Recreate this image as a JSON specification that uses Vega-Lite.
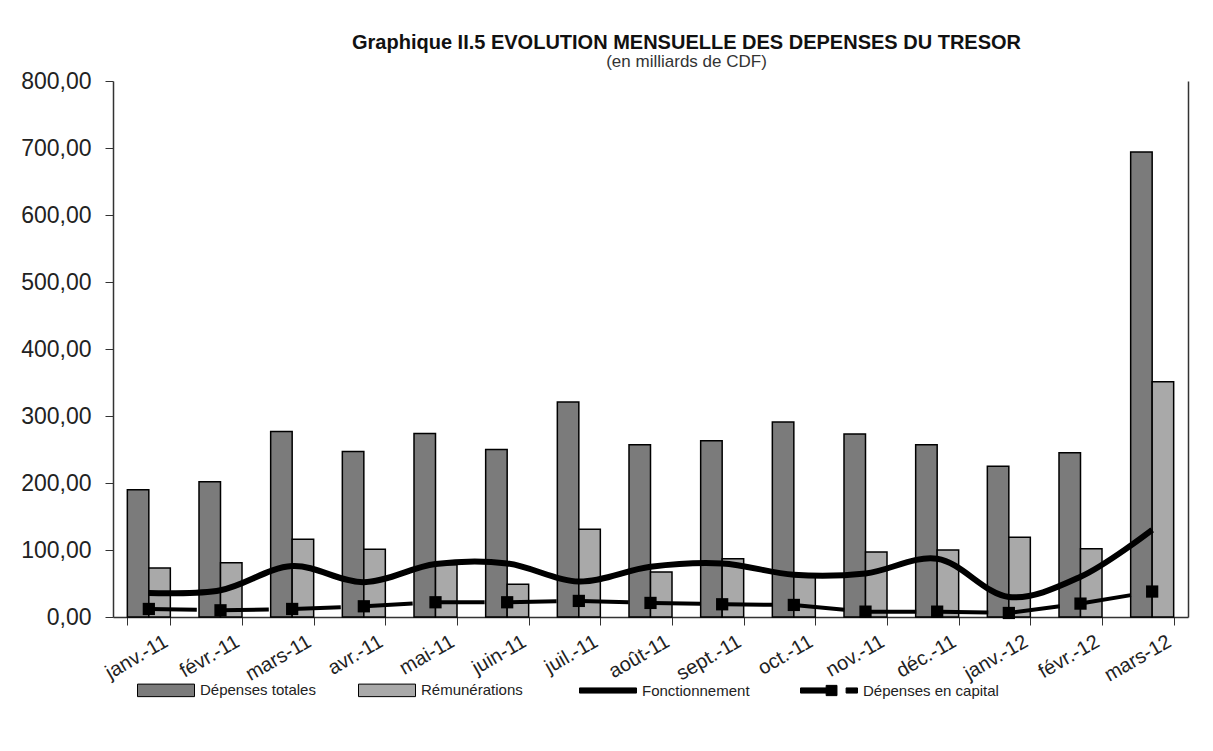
{
  "$schema": "https://vega.github.io/schema/vega-lite/v6.json",
  "width": 1075,
  "height": 536,
  "autosize": {"type": "none"},
  "padding": {"left": 113, "top": 81, "right": 25, "bottom": 134},
  "background": "white",
  "title": {
    "text": "Graphique II.5  EVOLUTION MENSUELLE DES DEPENSES DU TRESOR",
    "subtitle": "(en milliards de CDF)",
    "font": "Liberation Sans",
    "fontSize": 20,
    "fontWeight": "bold",
    "color": "#111",
    "subtitleFont": "Liberation Sans",
    "subtitleFontSize": 17,
    "subtitleColor": "#333",
    "subtitlePadding": 1,
    "anchor": "middle",
    "dx": 36,
    "offset": 0
  },
  "config": {
    "view": {"stroke": null},
    "axis": {
      "labelFont": "Liberation Sans",
      "domainColor": "#333",
      "tickColor": "#333",
      "labelColor": "#222",
      "grid": false,
      "title": null
    }
  },
  "data": {
    "values": [
      {"month": "janv.-11", "series": "Dépenses totales", "value": 190},
      {"month": "févr.-11", "series": "Dépenses totales", "value": 202},
      {"month": "mars-11", "series": "Dépenses totales", "value": 277},
      {"month": "avr.-11", "series": "Dépenses totales", "value": 247},
      {"month": "mai-11", "series": "Dépenses totales", "value": 274},
      {"month": "juin-11", "series": "Dépenses totales", "value": 250},
      {"month": "juil.-11", "series": "Dépenses totales", "value": 321},
      {"month": "août-11", "series": "Dépenses totales", "value": 257},
      {"month": "sept.-11", "series": "Dépenses totales", "value": 263},
      {"month": "oct.-11", "series": "Dépenses totales", "value": 291},
      {"month": "nov.-11", "series": "Dépenses totales", "value": 273},
      {"month": "déc.-11", "series": "Dépenses totales", "value": 257},
      {"month": "janv.-12", "series": "Dépenses totales", "value": 225},
      {"month": "févr.-12", "series": "Dépenses totales", "value": 245},
      {"month": "mars-12", "series": "Dépenses totales", "value": 694},
      {"month": "janv.-11", "series": "Rémunérations", "value": 73},
      {"month": "févr.-11", "series": "Rémunérations", "value": 81},
      {"month": "mars-11", "series": "Rémunérations", "value": 116},
      {"month": "avr.-11", "series": "Rémunérations", "value": 101},
      {"month": "mai-11", "series": "Rémunérations", "value": 78},
      {"month": "juin-11", "series": "Rémunérations", "value": 49},
      {"month": "juil.-11", "series": "Rémunérations", "value": 131},
      {"month": "août-11", "series": "Rémunérations", "value": 67},
      {"month": "sept.-11", "series": "Rémunérations", "value": 87},
      {"month": "oct.-11", "series": "Rémunérations", "value": 63},
      {"month": "nov.-11", "series": "Rémunérations", "value": 97},
      {"month": "déc.-11", "series": "Rémunérations", "value": 100},
      {"month": "janv.-12", "series": "Rémunérations", "value": 119},
      {"month": "févr.-12", "series": "Rémunérations", "value": 102},
      {"month": "mars-12", "series": "Rémunérations", "value": 351},
      {"month": "janv.-11", "series": "Fonctionnement", "value": 36},
      {"month": "févr.-11", "series": "Fonctionnement", "value": 40},
      {"month": "mars-11", "series": "Fonctionnement", "value": 76},
      {"month": "avr.-11", "series": "Fonctionnement", "value": 52},
      {"month": "mai-11", "series": "Fonctionnement", "value": 79},
      {"month": "juin-11", "series": "Fonctionnement", "value": 80},
      {"month": "juil.-11", "series": "Fonctionnement", "value": 53},
      {"month": "août-11", "series": "Fonctionnement", "value": 75},
      {"month": "sept.-11", "series": "Fonctionnement", "value": 80},
      {"month": "oct.-11", "series": "Fonctionnement", "value": 63},
      {"month": "nov.-11", "series": "Fonctionnement", "value": 65},
      {"month": "déc.-11", "series": "Fonctionnement", "value": 87},
      {"month": "janv.-12", "series": "Fonctionnement", "value": 30},
      {"month": "févr.-12", "series": "Fonctionnement", "value": 60},
      {"month": "mars-12", "series": "Fonctionnement", "value": 130},
      {"month": "janv.-11", "series": "Dépenses en capital", "value": 12},
      {"month": "févr.-11", "series": "Dépenses en capital", "value": 10},
      {"month": "mars-11", "series": "Dépenses en capital", "value": 12},
      {"month": "avr.-11", "series": "Dépenses en capital", "value": 16},
      {"month": "mai-11", "series": "Dépenses en capital", "value": 22},
      {"month": "juin-11", "series": "Dépenses en capital", "value": 22},
      {"month": "juil.-11", "series": "Dépenses en capital", "value": 24},
      {"month": "août-11", "series": "Dépenses en capital", "value": 21},
      {"month": "sept.-11", "series": "Dépenses en capital", "value": 19},
      {"month": "oct.-11", "series": "Dépenses en capital", "value": 18},
      {"month": "nov.-11", "series": "Dépenses en capital", "value": 8},
      {"month": "déc.-11", "series": "Dépenses en capital", "value": 8},
      {"month": "janv.-12", "series": "Dépenses en capital", "value": 6},
      {"month": "févr.-12", "series": "Dépenses en capital", "value": 20},
      {"month": "mars-12", "series": "Dépenses en capital", "value": 38}
    ]
  },
  "encoding": {
    "x": {
      "field": "month",
      "type": "nominal",
      "sort": null,
      "scale": {
        "domain": ["janv.-11", "févr.-11", "mars-11", "avr.-11", "mai-11", "juin-11", "juil.-11", "août-11", "sept.-11", "oct.-11", "nov.-11", "déc.-11", "janv.-12", "févr.-12", "mars-12"],
        "paddingInner": 0.4,
        "paddingOuter": 0.2
      },
      "axis": {
        "labelAngle": -30,
        "labelAlign": "right",
        "labelBaseline": "top",
        "labelFontSize": 20,
        "labelPadding": 6,
        "labelOffset": 12,
        "tickBand": "extent",
        "tickSize": 8,
        "domainWidth": 1.5
      }
    }
  },
  "resolve": {"axis": {"y": "independent"}},
  "layer": [
    {
      "transform": [{"filter": "datum.series === 'Dépenses totales' || datum.series === 'Rémunérations'"}],
      "mark": {"type": "bar", "stroke": "black", "strokeWidth": 1.5},
      "encoding": {
        "xOffset": {"field": "series", "type": "nominal", "sort": null, "scale": {"domain": ["Dépenses totales", "Rémunérations"], "paddingInner": 0}},
        "y": {
          "field": "value",
          "type": "quantitative",
          "scale": {"domain": [0, 800]},
          "axis": {
            "values": [0, 100, 200, 300, 400, 500, 600, 700, 800],
            "labelExpr": "replace(format(datum.value, '.2f'), '.', ',')",
            "labelFontSize": 23,
            "labelPadding": 14,
            "tickSize": 8,
            "domainWidth": 1.5
          }
        },
        "fill": {"field": "series", "type": "nominal", "scale": {"domain": ["Dépenses totales", "Rémunérations"], "range": ["#7b7b7b", "#a9a9a9"]}, "legend": null}
      }
    },
    {
      "transform": [{"filter": "datum.series === 'Fonctionnement'"}],
      "mark": {"type": "line", "color": "black", "strokeWidth": 6, "interpolate": "catmull-rom"},
      "encoding": {
        "y": {"field": "value", "type": "quantitative", "scale": {"domain": [0, 800]}, "axis": {"orient": "right", "labels": false, "ticks": false, "domainWidth": 1.5}}
      }
    },
    {
      "transform": [{"filter": "datum.series === 'Dépenses en capital'"}],
      "mark": {"type": "line", "color": "black", "strokeWidth": 4, "strokeDash": [48, 24]},
      "encoding": {
        "y": {"field": "value", "type": "quantitative", "scale": {"domain": [0, 800]}, "axis": null}
      }
    },
    {
      "transform": [{"filter": "datum.series === 'Dépenses en capital'"}],
      "mark": {"type": "point", "shape": "square", "filled": true, "color": "black", "size": 150, "opacity": 1},
      "encoding": {
        "y": {"field": "value", "type": "quantitative", "scale": {"domain": [0, 800]}, "axis": null}
      }
    },
    {
      "transform": [{"filter": "datum.value < 0"}],
      "mark": {"type": "point", "filled": true, "opacity": 1},
      "encoding": {
        "color": {
          "field": "series",
          "type": "nominal",
          "scale": {"domain": ["Dépenses totales", "Rémunérations", "Fonctionnement", "Dépenses en capital"], "range": ["#7b7b7b", "#a9a9a9", "black", "black"]},
          "legend": {
            "orient": "none",
            "legendX": 24,
            "legendY": 580,
            "direction": "horizontal",
            "columns": 4,
            "title": null,
            "symbolSize": 3249,
            "labelFont": "Liberation Sans",
            "labelFontSize": 15,
            "labelColor": "#222",
            "labelOffset": 5,
            "symbolStrokeColor": "black",
            "symbolStrokeWidth": 1,
            "gridAlign": "all",
            "columnPadding": 20
          }
        },
        "shape": {
          "field": "series",
          "type": "nominal",
          "scale": {
            "domain": ["Dépenses totales", "Rémunérations", "Fonctionnement", "Dépenses en capital"],
            "range": ["M-1,-0.22H1V0.22H-1Z", "M-1,-0.22H1V0.22H-1Z", "M-1,-0.09H1V0.09H-1Z", "M-1,-0.09H0.09V0.09H-1Z M-0.1,-0.18H0.28V0.18H-0.1Z M0.6,-0.09H1V0.09H0.6Z"]
          }
        }
      }
    }
  ]
}
